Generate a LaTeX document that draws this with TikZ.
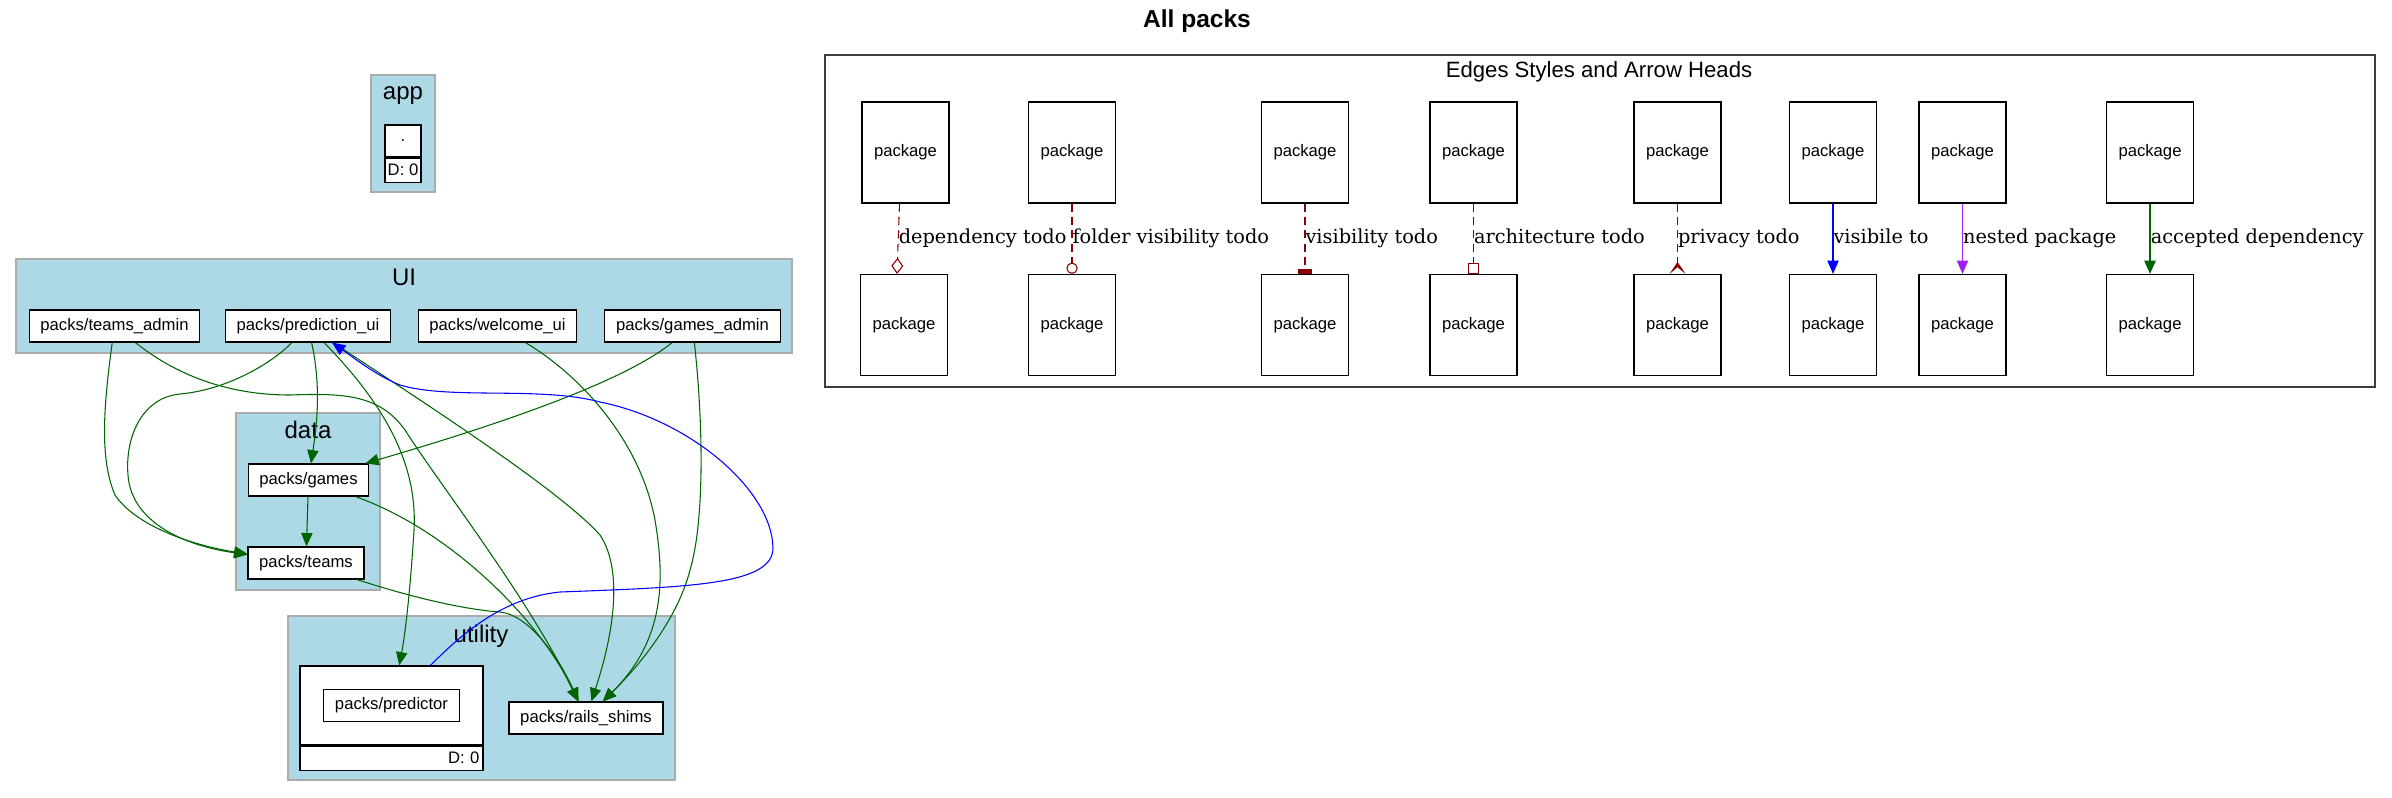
\documentclass[tikz,border=0pt]{standalone}
\usepackage{fontspec}
\setmainfont{Liberation Sans}
\newfontfamily\edgefont{DejaVu Serif}
\usetikzlibrary{arrows.meta,positioning,calc}
\definecolor{clusterblue}{HTML}{ADD8E6}
\definecolor{clustergray}{HTML}{ABABAB}
\definecolor{darkgreen}{HTML}{006400}
\definecolor{darkred}{HTML}{8B0000}
\definecolor{nestpurple}{HTML}{A020F0}
\definecolor{legendgray}{HTML}{3C3C3C}

\begin{document}
\begin{tikzpicture}[x=0.75pt, y=-0.75pt,
  every node/.style={font=\fontsize{12.5}{15}\selectfont},
  pkg/.style={draw=black, fill=white, line width=0.9pt, inner xsep=8.4pt, inner ysep=0pt, minimum height=24pt},
  legendpkg/.style={draw=black, fill=white, line width=0.9pt, minimum width=65.25pt, minimum height=75.75pt},
  cluster/.style={fill=clusterblue, draw=clustergray, line width=1.1pt},
  clusterlabel/.style={font=\fontsize{18}{21}\selectfont},
  dep/.style={color=darkgreen, line width=0.8pt, -{Triangle[length=10pt, width=8.5pt]}},
  vis/.style={color=blue, line width=0.8pt, -{Triangle[length=10pt, width=8.5pt]}},
  nest/.style={color=nestpurple, line width=0.8pt, -{Triangle[length=10pt, width=8.5pt]}},
  todo/.style={color=darkred, line width=0.8pt, dash pattern=on 6pt off 4pt},
  elabel/.style={font=\edgefont\fontsize{14.5}{17}\selectfont, text=black, inner sep=0pt, anchor=base west, yshift=-3.75pt}]
  \useasboundingbox (0,0) rectangle (2392,797);

  \node[font=\bfseries\fontsize{18.4}{22}\selectfont] (title) at (1197,21) {All packs};

  % app
  \draw[cluster] (371,75) rectangle (435,192);
  \node[clusterlabel] (applbl) at (403,96) {app};
  \node[pkg, minimum width=27pt, inner xsep=1pt] (appdot) at (403,141) {.};
  \node[pkg, below=0pt of appdot, minimum width=27pt, minimum height=18pt, inner xsep=1pt] (appd) {D: 0};

  % UI
  \draw[cluster] (16,259) rectangle (792,353);
  \node[clusterlabel] (uilbl) at (404,277) {UI};
  \node[pkg] (ta) at (114.5,326) {packs/teams\_admin};
  \node[pkg] (pu) at (308,326) {packs/prediction\_ui};
  \node[pkg] (wu) at (497.5,326) {packs/welcome\_ui};
  \node[pkg] (ga) at (692.5,326) {packs/games\_admin};

  % data
  \draw[cluster] (236,413) rectangle (380,590);
  \node[clusterlabel] (datalbl) at (308,430) {data};
  \node[pkg] (gm) at (308.5,480) {packs/games};
  \node[pkg] (tm) at (306,563) {packs/teams};

  % utility
  \draw[cluster] (288,616) rectangle (675,780);
  \node[clusterlabel] (utillbl) at (481,636) {utility};
  \node[pkg, minimum width=137.25pt, minimum height=59.25pt] (prrec) at (391.5,705.5) {};
  \node[pkg, below=0pt of prrec, minimum width=137.25pt, minimum height=18pt, text width=132pt, align=right, inner xsep=2pt] (prfoot) {D: 0};
  \node[pkg] (pr) at (391.5,705.5) {packs/predictor};
  \node[pkg] (rs) at (586,718) {packs/rails\_shims};

  % dependencies
  \draw[dep] (ta) .. controls (103,410) and (100,460) .. (115,495) .. controls (135,525) and (190,545) .. (tm);
  \draw[dep] (pu) .. controls (270,365) and (225,390) .. (180,394) .. controls (140,398) and (125,440) .. (128,475) .. controls (131,520) and (180,545) .. (tm);
  \draw[dep] (pu) .. controls (322,390) and (316,430) .. (gm);
  \draw[dep] (gm) -- (tm);
  \draw[dep] (ga) .. controls (620,385) and (480,430) .. (gm);
  \draw[dep] (ta) .. controls (170,370) and (220,395) .. (290,395) .. controls (345,393) and (380,395) .. (405,430) .. controls (440,485) and (530,600) .. (rs);
  \draw[dep] (pu) .. controls (420,400) and (560,490) .. (600,535) .. controls (620,565) and (618,620) .. (rs);
  \draw[dep] (pu) .. controls (380,400) and (418,460) .. (414,530) .. controls (411,580) and (406,630) .. (prrec);
  \draw[dep] (wu) .. controls (580,375) and (640,440) .. (655,520) .. controls (665,580) and (665,640) .. (rs);
  \draw[dep] (ga) .. controls (703,420) and (705,520) .. (690,570) .. controls (680,610) and (650,655) .. (rs);
  \draw[dep] (gm) .. controls (450,530) and (540,620) .. (rs);
  \draw[dep] (tm) .. controls (420,600) and (470,610) .. (500,612) .. controls (530,615) and (560,660) .. (rs);
  % visible to
  \draw[vis] (prrec) .. controls (470,625) and (510,597) .. (560,592) .. controls (690,587) and (773,585) .. (773,548) .. controls (772,490) and (690,420) .. (600,402) .. controls (540,386) and (450,400) .. (400,385) .. controls (375,375) and (350,355) .. (pu);

  % legend
  \draw[draw=legendgray, line width=1pt] (825,55) rectangle (2375,387);
  \node[font=\fontsize{16.6}{20}\selectfont] (legendlbl) at (1599,72) {Edges Styles and Arrow Heads};
  \node[legendpkg] (d1t) at (905.5,152.5) {package}; \node[legendpkg] (d1b) at (904,325) {package};
  \node[legendpkg] (d2t) at (1072,152.5) {package}; \node[legendpkg] (d2b) at (1072,325) {package};
  \node[legendpkg] (d3t) at (1305,152.5) {package}; \node[legendpkg] (d3b) at (1305,325) {package};
  \node[legendpkg] (d4t) at (1473.5,152.5) {package}; \node[legendpkg] (d4b) at (1473.5,325) {package};
  \node[legendpkg] (d5t) at (1677.5,152.5) {package}; \node[legendpkg] (d5b) at (1677.5,325) {package};
  \node[legendpkg] (d6t) at (1833,152.5) {package}; \node[legendpkg] (d6b) at (1833,325) {package};
  \node[legendpkg] (d7t) at (1962.5,152.5) {package}; \node[legendpkg] (d7b) at (1962.5,325) {package};
  \node[legendpkg] (d8t) at (2150,152.5) {package}; \node[legendpkg] (d8b) at (2150,325) {package};

  \draw[todo, -{Diamond[open, length=12pt, width=9pt]}] ($(d1t.south)+(-6,0)$) -- node[elabel, midway] {dependency todo} ($(d1b.north)+(-7,0)$);
  \draw[todo, -{Circle[open, length=8.5pt]}] (d2t) -- node[elabel, midway] {folder visibility todo} (d2b);
  \draw[todo, -{Rectangle[length=3.5pt, width=11pt]}] (d3t) -- node[elabel, midway] {visibility todo} (d3b);
  \draw[todo, -{Square[open, length=8.5pt]}] (d4t) -- node[elabel, midway] {architecture todo} (d4b);
  \draw[todo, -{Stealth[reversed, length=9pt, width=12pt, inset=5pt]}] (d5t) -- node[elabel, midway] {privacy todo} (d5b);
  \draw[vis] (d6t) -- node[elabel, midway] {visibile to} (d6b);
  \draw[nest] (d7t) -- node[elabel, midway] {nested package} (d7b);
  \draw[dep, line width=1.2pt] (d8t) -- node[elabel, midway] {accepted dependency} (d8b);
\end{tikzpicture}
\end{document}
